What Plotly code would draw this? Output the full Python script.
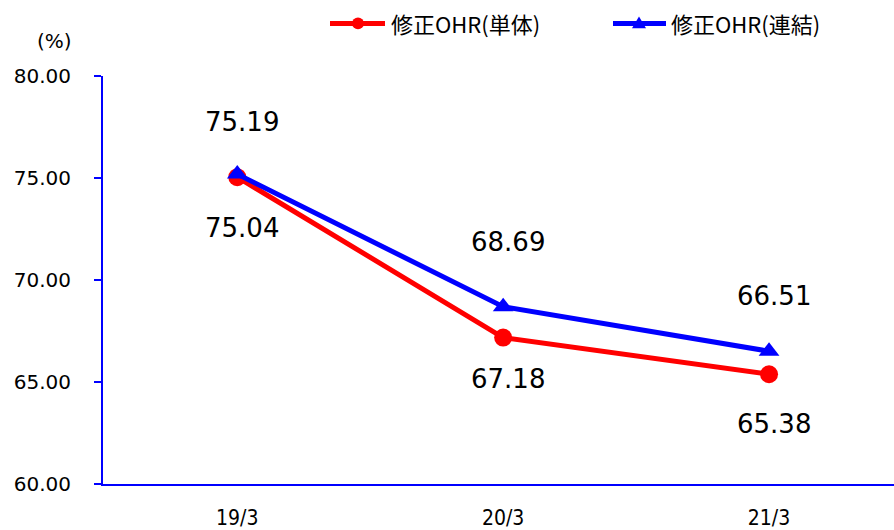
import plotly.graph_objects as go

categories = ["19/3", "20/3", "21/3"]
tanntai = [75.04, 67.18, 65.38]
renketsu = [75.19, 68.69, 66.51]
y_ticks = [60, 65, 70, 75, 80]
y_tick_text = ["60.00", "65.00", "70.00", "75.00", "80.00"]

RED = "#FF0000"
BLUE = "#0000FF"

# plot area geometry (px)
L, R, T, B = 103, 894, 76, 487
W, H = R - L, B - T


def px(x):
    return (x - L) / W


def py(y):
    return (B - y) / H


fig = go.Figure()
fig.add_trace(go.Scatter(
    x=categories, y=tanntai, mode="lines+markers", name="修正OHR(単体)",
    line=dict(color=RED, width=5),
    marker=dict(symbol="circle", size=18, color=RED),
    showlegend=False,
))
fig.add_trace(go.Scatter(
    x=categories, y=renketsu, mode="lines+markers", name="修正OHR(連結)",
    line=dict(color=BLUE, width=5),
    marker=dict(symbol="triangle-up", size=18, color=BLUE),
    showlegend=False,
))

red_shift = [-51, -41, -50]
blue_shift = [52, 65, 55]
for i, v in enumerate(tanntai):
    fig.add_annotation(x=categories[i], y=v, text=f"{v:.2f}", showarrow=False,
                       yshift=red_shift[i], xshift=5,
                       font=dict(family="DejaVu Sans", size=26, color="#000000"))
for i, v in enumerate(renketsu):
    fig.add_annotation(x=categories[i], y=v, text=f"{v:.2f}", showarrow=False,
                       yshift=blue_shift[i], xshift=5,
                       font=dict(family="DejaVu Sans", size=26, color="#000000"))

# unit label
fig.add_annotation(xref="paper", yref="paper", x=px(54), y=py(41),
                   text="(%)", showarrow=False, xanchor="center", yanchor="middle",
                   font=dict(family="DejaVu Sans", size=20, color="#000000"))

# manual legend
leg_y = 23
legend_items = [
    ("修正OHR(単体)", RED, "circle", 330, 385, 358, 389),
    ("修正OHR(連結)", BLUE, "triangle", 613, 666, 639, 669),
]
for name, col, sym, x0, x1, xm, xt in legend_items:
    fig.add_shape(type="line", xref="paper", yref="paper",
                  x0=px(x0), x1=px(x1), y0=py(leg_y), y1=py(leg_y),
                  line=dict(color=col, width=5))
    if sym == "circle":
        fig.add_shape(type="circle", xref="paper", yref="paper",
                      x0=px(xm - 6), x1=px(xm + 6), y0=py(leg_y - 6), y1=py(leg_y + 6),
                      fillcolor=col, line=dict(color=col, width=0))
    else:
        path = (f"M {px(xm - 7)},{py(leg_y + 5)} L {px(xm + 7)},{py(leg_y + 5)} "
                f"L {px(xm)},{py(leg_y - 7)} Z")
        fig.add_shape(type="path", xref="paper", yref="paper", path=path,
                      fillcolor=col, line=dict(color=col, width=0))
    fig.add_annotation(xref="paper", yref="paper", x=px(xt), y=py(leg_y),
                       text=name, showarrow=False, xanchor="left", yanchor="middle",
                       font=dict(family="Noto Sans CJK JP", size=22, color="#000000"))

fig.update_layout(
    width=894, height=530,
    margin=dict(l=L, r=894 - R, t=T, b=530 - B),
    paper_bgcolor="white", plot_bgcolor="white",
    showlegend=False,
    xaxis=dict(
        type="category",
        range=[-0.505, 2.47],
        showgrid=False, zeroline=False,
        showline=True, linecolor=BLUE, linewidth=2,
        ticks="", ticklabelstandoff=14,
        tickfont=dict(family="DejaVu Sans Condensed", size=21, color="#000000"),
    ),
    yaxis=dict(
        range=[60, 80],
        tickmode="array", tickvals=y_ticks, ticktext=y_tick_text,
        showgrid=False, zeroline=False,
        showline=True, linecolor=BLUE, linewidth=2,
        ticks="outside", ticklen=7, tickcolor=BLUE, tickwidth=2,
        ticklabelstandoff=19,
        tickfont=dict(family="DejaVu Sans", size=20, color="#000000"),
    ),
)

fig.write_html("out.html")
